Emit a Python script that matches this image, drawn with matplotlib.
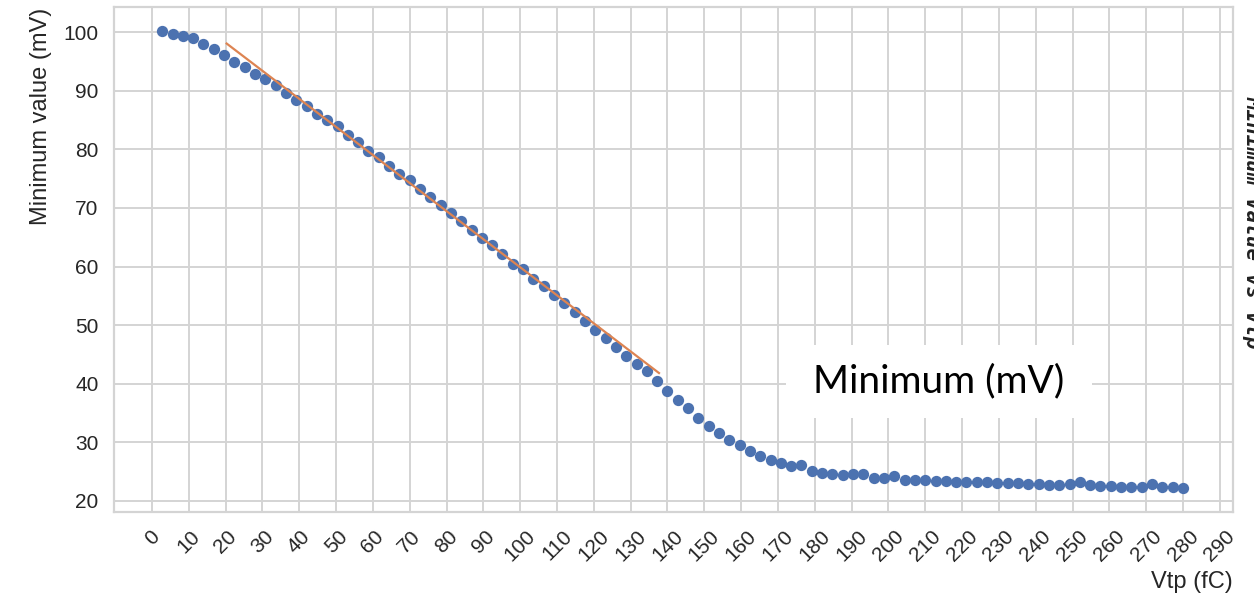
import numpy as np
import matplotlib
matplotlib.use("Agg")
import matplotlib.pyplot as plt
from matplotlib.patches import Rectangle

# Vtp sweep (fC) and the measured minimum of the pulse (mV)
vtp = np.round(np.arange(1, 101) * 2.8, 1)
minimum_mv = [
    100.2, 99.8, 99.4, 99.1, 98.1, 97.1, 96.1, 95.0, 94.1, 92.9,
    92.0, 91.0, 89.7, 88.5, 87.5, 86.1, 85.0, 84.0, 82.5, 81.2,
    79.8, 78.8, 77.2, 75.8, 74.7, 73.3, 71.9, 70.5, 69.1, 67.7,
    66.3, 64.9, 63.6, 62.2, 60.5, 59.5, 57.9, 56.6, 55.2, 53.8,
    52.3, 50.7, 49.1, 47.8, 46.2, 44.7, 43.4, 42.2, 40.4, 38.7,
    37.2, 35.9, 34.2, 32.8, 31.6, 30.4, 29.5, 28.5, 27.7, 27.0,
    26.4, 25.9, 26.0, 25.1, 24.8, 24.5, 24.3, 24.6, 24.5, 23.9,
    23.8, 24.2, 23.6, 23.5, 23.5, 23.4, 23.3, 23.2, 23.2, 23.1,
    23.1, 23.0, 23.0, 23.0, 22.8, 22.8, 22.7, 22.7, 22.8, 23.2,
    22.6, 22.5, 22.5, 22.4, 22.4, 22.4, 22.9, 22.3, 22.3, 22.2,
]

# linear region fit, drawn as a segment
fit_x = [20.3, 137.7]
fit_y = [98.1, 41.8]

x_ticks = list(range(0, 300, 10))
y_ticks = list(range(20, 101, 10))

BLUE = "#4c72b0"
ORANGE = "#dd8452"
GRID = "#d4d4d4"
INK = "#262626"

plt.rcParams["font.family"] = ["Liberation Sans", "DejaVu Sans"]

W, H = 1254, 596
fig = plt.figure(figsize=(W / 100, H / 100), dpi=100)
ax = fig.add_axes([0.0909, 0.1414, 0.8924, 0.8464])

ax.scatter(vtp, minimum_mv, s=66, color=BLUE, linewidths=0, zorder=3)
ax.plot(fit_x, fit_y, color=ORANGE, linewidth=1.6, zorder=4)

ax.set_xlim(-10.3, 293.6)
ax.set_ylim(18.1, 104.3)
ax.set_xticks(x_ticks)
ax.set_yticks(y_ticks)
ax.set_xticklabels([str(t) for t in x_ticks], rotation=45, ha="center")

ax.grid(True, color=GRID, linewidth=1.4)
ax.set_axisbelow(True)
for spine in ax.spines.values():
    spine.set_color(GRID)
    spine.set_linewidth(1.6)
ax.tick_params(axis="both", length=0, colors=INK)
ax.tick_params(axis="y", labelsize=15, pad=11)
ax.tick_params(axis="x", labelsize=15, pad=11)

ax.set_ylabel("Minimum value (mV)", fontsize=17, color=INK, loc="top", labelpad=8)
# x label sits under the tick labels, flush with the right spine
fig.text(1233 / W, 1 - 582 / H, "Vtp (fC)", fontsize=17, color=INK,
         ha="right", va="center")

# legend-like caption on a white panel over the grid
fig.patches.append(Rectangle((786 / W, 1 - 418 / H), 306 / W, 73 / H,
                             transform=fig.transFigure, facecolor="white",
                             edgecolor="none", zorder=5))
fig.text(939 / W, 1 - 381 / H, "Minimum (mV)", fontsize=28, family="Lato",
         ha="center", va="center", color="black", zorder=6)

# rotated title running off the right edge
fig.text(1243 / W, 1 - 222 / H, "Minimum Value vs Vtp", rotation=270,
         fontsize=15, family="DejaVu Sans Mono", style="italic", weight="bold",
         ha="left", va="center", color="#222222")

fig.savefig("out.png", dpi=100)
